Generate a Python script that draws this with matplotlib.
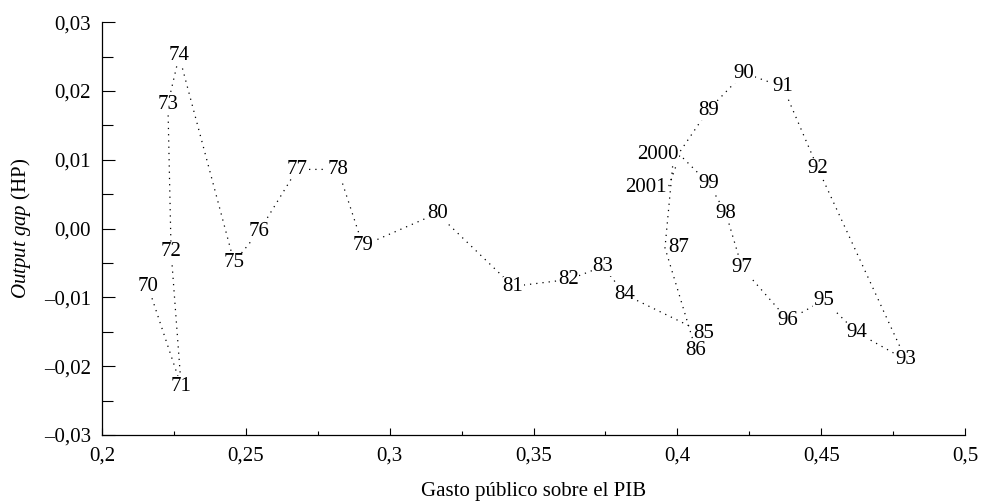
import matplotlib
matplotlib.use('Agg')
import matplotlib.pyplot as plt
from matplotlib.ticker import FixedLocator, MultipleLocator

plt.rcParams['font.family'] = ['Liberation Serif', 'DejaVu Serif']
plt.rcParams['mathtext.fontset'] = 'custom'
plt.rcParams['mathtext.rm'] = 'Liberation Serif'
plt.rcParams['mathtext.it'] = 'Liberation Serif:italic'

# Años (etiquetas) y valores
years = ['70', '71', '72', '73', '74', '75', '76', '77', '78', '79',
         '80', '81', '82', '83', '84', '85', '86', '87', '88', '89',
         '90', '91', '92', '93', '94', '95', '96', '97', '98', '99',
         '2000', '2001']
gasto = [0.216, 0.2275, 0.224, 0.2229, 0.2268, 0.2459, 0.2546, 0.2678, 0.282, 0.2907,
         0.3165, 0.3429, 0.3623, 0.3742, 0.3818, 0.4093, 0.4065, 0.3957, 0.3985, 0.4107,
         0.4232, 0.4367, 0.4489, 0.4795, 0.4624, 0.451, 0.4385, 0.4225, 0.4169, 0.411,
         0.4009, 0.3968]
output_gap = [-0.0084, -0.0229, -0.0033, 0.0181, 0.0251, -0.0049, -0.0004, 0.0086, 0.0086, -0.0025,
              0.0022, -0.0084, -0.0074, -0.0055, -0.0096, -0.0152, -0.0177, -0.0028, 0.0097, 0.0172,
              0.0226, 0.0206, 0.0087, -0.0191, -0.0151, -0.0104, -0.0133, -0.0057, 0.0022, 0.0065,
              0.0107, 0.0059]
# 88 queda sin rótulo (tapado por 2000 en el original)
hidden = ['88']
right_aligned = ['2000', '2001']
left_aligned = ['87']

xticks = [0.2, 0.25, 0.3, 0.35, 0.4, 0.45, 0.5]
xtick_labels = ['0,2', '0,25', '0,3', '0,35', '0,4', '0,45', '0,5']
yticks = [-0.03, -0.02, -0.01, 0.0, 0.01, 0.02, 0.03]
ytick_labels = ['\u20130,03', '\u20130,02', '\u20130,01', '0,00', '0,01', '0,02', '0,03']

fs = 15

fig = plt.figure(figsize=(9.84, 5.04), dpi=100)
ax = fig.add_axes([0.1037, 0.137, 0.877, 0.819])

ax.plot(gasto, output_gap, color='black', linestyle=(0, (1, 4)), linewidth=0.9)

for lab, gx, gy in zip(years, gasto, output_gap):
    if lab in hidden:
        continue
    ha = 'center'
    dx = 0
    if lab in right_aligned:
        ha = 'right'
        dx = -0.0005
    elif lab in left_aligned:
        ha = 'left'
        dx = 0.001
    ax.text(gx + dx, gy, lab, ha=ha, va='center', fontsize=fs,
            bbox=dict(facecolor='white', edgecolor='none', pad=0.2))

ax.set_xlim(0.2, 0.5)
ax.set_ylim(-0.03, 0.03)
ax.xaxis.set_major_locator(FixedLocator(xticks))
ax.set_xticklabels(xtick_labels)
ax.xaxis.set_minor_locator(MultipleLocator(0.025))
ax.yaxis.set_major_locator(FixedLocator(yticks))
ax.set_yticklabels(ytick_labels)
ax.yaxis.set_minor_locator(MultipleLocator(0.005))

ax.tick_params(axis='x', which='major', direction='in', length=5, width=0.8, pad=8, labelsize=fs)
ax.tick_params(axis='x', which='minor', direction='in', length=3, width=0.8)
ax.tick_params(axis='y', which='major', direction='in', length=9, width=0.8, pad=8, labelsize=fs)
ax.tick_params(axis='y', which='minor', direction='in', length=8, width=0.8)

ax.spines['top'].set_visible(False)
ax.spines['right'].set_visible(False)
ax.spines['left'].set_linewidth(0.9)
ax.spines['bottom'].set_linewidth(0.9)

ax.set_xlabel('Gasto público sobre el PIB', fontsize=fs, labelpad=12)
ax.set_ylabel(r'$Output\ gap$ (HP)', fontsize=fs, labelpad=8)

fig.savefig('out.png', dpi=100)
